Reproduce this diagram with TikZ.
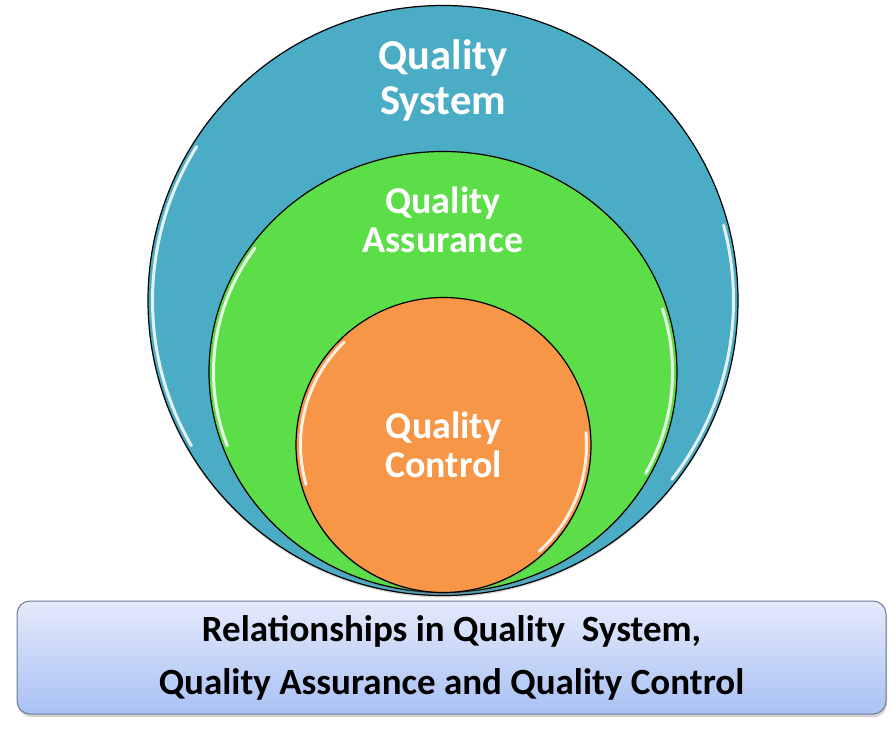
\documentclass[tikz,border=0pt]{standalone}
\usepackage{fontspec}
\setmainfont{Carlito}
\usetikzlibrary{positioning,shapes.geometric,shadows}
\definecolor{sysblue}{HTML}{4BACC6}
\definecolor{qagreen}{HTML}{5CDE48}
\definecolor{qcorange}{HTML}{F79646}
\definecolor{captop}{HTML}{E4EAFB}
\definecolor{capbottom}{HTML}{A9C1F4}
\definecolor{capline}{HTML}{6E7C94}

\begin{document}
\begin{tikzpicture}[x=1pt, y=-1pt,
	ring/.style={circle, draw=black, line width=1.2pt, inner sep=0pt,
		drop shadow={opacity=0.3, shadow xshift=0pt, shadow yshift=-2pt}},
	oval/.style={ellipse, draw=black, line width=1.2pt, inner sep=0pt,
		drop shadow={opacity=0.3, shadow xshift=0pt, shadow yshift=-2pt}},
	gloss/.style={white, line width=3pt, opacity=0.85, line cap=round},
	ringtext/.style={text=white, align=center, inner sep=0pt,
		font=\bfseries\fontsize{38}{39}\selectfont},
	caption/.style={rounded corners=13pt, draw=capline, line width=1pt,
		top color=captop, bottom color=capbottom,
		minimum width=869pt, minimum height=113pt, align=center,
		font=\bfseries\fontsize{37}{53}\selectfont,
		drop shadow={opacity=0.35, shadow xshift=1pt, shadow yshift=-3pt}}]
\useasboundingbox (0,0) rectangle (896,735);

% the three nested rings
\node[ring, fill=sysblue, minimum size=590pt] (sys) at (443,300.5) {};
\draw[gloss] (sys.center) ++(212:290.5) arc[start angle=212, end angle=150, radius=290.5];
\draw[gloss] (sys.center) ++(-15:290.5) arc[start angle=-15, end angle=38, radius=290.5];

\node[oval, fill=qagreen, minimum width=468pt, minimum height=441pt] (qa) at (443,372) {};
\draw[gloss] (qa.center) ++(215:229.5 and 216) arc[start angle=215, end angle=160, x radius=229.5, y radius=216];
\draw[gloss] (qa.center) ++(-17:229.5 and 216) arc[start angle=-17, end angle=28, x radius=229.5, y radius=216];

\node[ring, fill=qcorange, minimum size=295pt] (qc) at (443.5,445) {};
\draw[gloss] (qc.center) ++(226:143) arc[start angle=226, end angle=164, radius=143];
\draw[gloss] (qc.center) ++(-5:143) arc[start angle=-5, end angle=48, radius=143];

% labels
\node[ringtext, font=\bfseries\fontsize{42.5}{45}\selectfont, below=35pt of sys.north] (systext) {Quality\\System};
\node[ringtext, below=35.5pt of qa.north] (qatext) {Quality\\Assurance};
\node[ringtext] (qctext) at (qc.center) {Quality\\Control};

% caption box
\node[caption] (cap) at (451.5,657.5) {Relationships in Quality~ System,\\Quality Assurance and Quality Control};
\end{tikzpicture}
\end{document}
